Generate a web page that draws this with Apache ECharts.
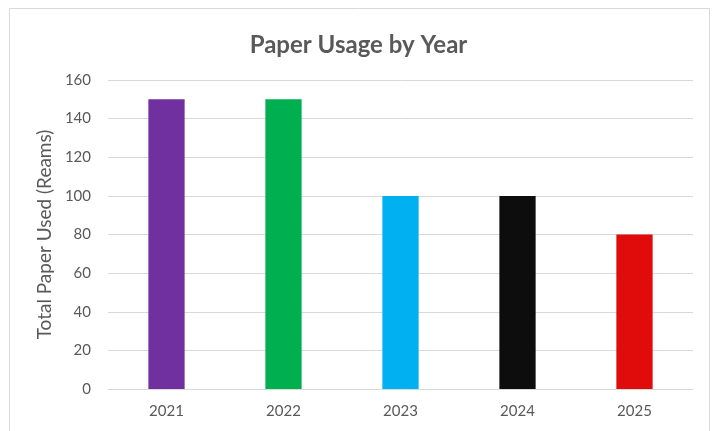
<!DOCTYPE html>
<html>
<head>
<meta charset="utf-8">
<script src="https://cdn.jsdelivr.net/npm/echarts@6/dist/echarts.min.js"></script>
<style>
html,body{margin:0;padding:0;background:#fff;}
#chart{width:717px;height:431px;}
</style>
</head>
<body>
<div id="chart"></div>
<script>
const categories = ['2021', '2022', '2023', '2024', '2025'];
const values = [150, 150, 100, 100, 80];
const barColors = ['#7030A0', '#00B050', '#00B0F0', '#0D0D0D', '#E00B0B'];
const yTicks = [0, 20, 40, 60, 80, 100, 120, 140, 160];

const chart = echarts.init(document.getElementById('chart'));
const font = 'Lato, "Open Sans", sans-serif';
chart.setOption({
  animation: false,
  graphic: [{
    type: 'rect',
    shape: {x: 9.5, y: 8.5, width: 700, height: 430},
    style: {fill: 'none', stroke: '#d9d9d9', lineWidth: 1},
    silent: true
  }],
  title: {
    text: 'Paper Usage by Year',
    left: 'center',
    top: 28,
    textStyle: {fontFamily: font, fontSize: 24, fontWeight: 'bold', color: '#595959'}
  },
  grid: {left: 108, right: 24, top: 80, bottom: 42},
  xAxis: {
    type: 'category',
    data: categories,
    axisLine: {lineStyle: {color: '#d9d9d9', width: 1}},
    axisTick: {show: false},
    axisLabel: {fontFamily: font, fontSize: 15, color: '#595959', margin: 15}
  },
  yAxis: {
    type: 'value',
    min: yTicks[0],
    max: yTicks[yTicks.length - 1],
    interval: 20,
    name: 'Total Paper Used (Reams)',
    nameLocation: 'middle',
    nameGap: 47,
    nameTextStyle: {fontFamily: font, fontSize: 19, color: '#595959'},
    axisLine: {show: false},
    axisTick: {show: false},
    splitLine: {lineStyle: {color: '#d9d9d9', width: 1}},
    axisLabel: {fontFamily: font, fontSize: 15, color: '#595959', margin: 17}
  },
  series: [{
    type: 'bar',
    data: values.map((v, i) => ({value: v, itemStyle: {color: barColors[i]}})),
    barWidth: '31%'
  }]
});
</script>
</body>
</html>
